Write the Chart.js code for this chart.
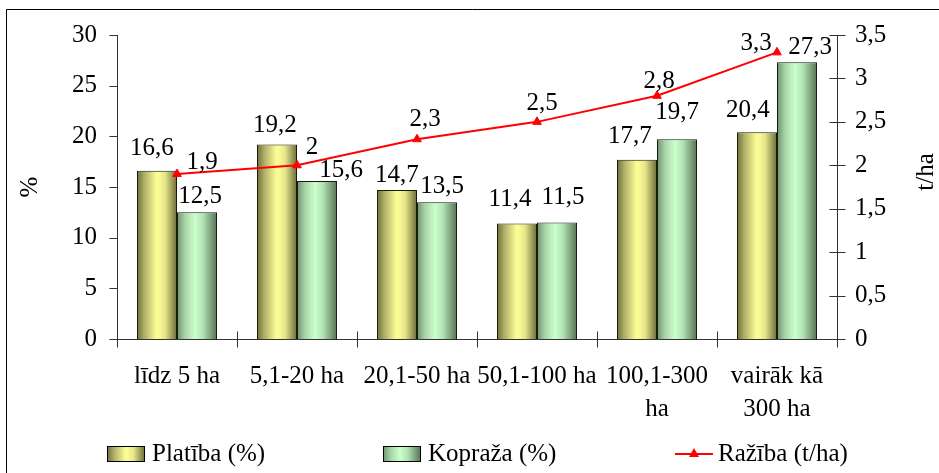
<!DOCTYPE html>
<html><head><meta charset="utf-8">
<script src="https://cdn.jsdelivr.net/npm/chart.js@4/dist/chart.umd.min.js"></script>
<style>html,body{margin:0;padding:0;background:#fff}#wrap{width:939px;height:473px;position:relative}</style>
</head><body><div id="wrap"><canvas id="c" width="939" height="473"></canvas></div>
<script>
const categories = ['līdz 5 ha', '5,1-20 ha', '20,1-50 ha', '50,1-100 ha', ['100,1-300', 'ha'], ['vairāk kā', '300 ha']];
const platiba = [16.6, 19.2, 14.7, 11.4, 17.7, 20.4];
const kopraza = [12.5, 15.6, 13.5, 11.5, 19.7, 27.3];
const raziba = [1.9, 2, 2.3, 2.5, 2.8, 3.3];
const seriesNames = ['Platība (%)', 'Kopraža (%)', 'Ražība (t/ha)'];
const leftAxisTitle = '%';
const rightAxisTitle = 't/ha';

// label placement tweaks (pixels) – style only
const platibaLabelDx = [-5, -2, 0, -7, -7, -9];
const platibaLabelUp = [22, 19, 15, 24, 23, 22];
const koprazaLabelDx = [3, 24, 5, 6, 0, 13];
const koprazaLabelUp = [16, 10, 16, 25, 27, 15];
const razibaLabelDx = [25, 15, 8, 5, 2, -21];
const razibaLabelDy = [-12, -18, -20, -18, -14, -9];

const FONT = '"Liberation Serif", "Times New Roman", serif';
const FS = 25;
const CAT_PCT = 0.667;
const fmt = v => String(v).replace('.', ',');

const platibaStops = [[0, '#6e6e3e'], [0.2, '#b4b46a'], [0.5, '#ffff99'], [0.7, '#e6e688'], [1, '#6a6a3a']];
const koprazaStops = [[0, '#6f8f6f'], [0.2, '#a8d4a8'], [0.45, '#ccffcc'], [0.65, '#b2e2b2'], [1, '#557055']];

function barGradient(stops, side) {
  return ctx => {
    const chart = ctx.chart;
    const xs = chart.scales && chart.scales.x;
    if (!xs || ctx.type !== 'data' || !xs.width) return stops[2][1];
    const center = xs.getPixelForValue(ctx.dataIndex);
    const bw = xs.width / categories.length * CAT_PCT / 2;
    const x0 = side < 0 ? center - bw : center;
    const g = chart.ctx.createLinearGradient(x0, 0, x0 + bw, 0);
    stops.forEach(([o, c]) => g.addColorStop(o, c));
    return g;
  };
}

const decor = {
  id: 'decor',
  afterDraw(chart) {
    const c = chart.ctx;
    const a = chart.chartArea;
    const ys = chart.scales.y, y1 = chart.scales.y1, xs = chart.scales.x;
    c.save();
    // outer frame
    c.strokeStyle = '#000'; c.lineWidth = 1;
    c.beginPath(); c.moveTo(6.5, 473); c.lineTo(6.5, 9.5); c.lineTo(939, 9.5); c.stroke();
    // axes
    const L = Math.round(a.left) + 0.5, R = Math.round(a.right) + 0.5, B = Math.round(a.bottom) + 0.5;
    c.strokeStyle = '#333';
    c.beginPath();
    c.moveTo(L, Math.round(a.top)); c.lineTo(L, B + 8);
    c.moveTo(R, Math.round(a.top)); c.lineTo(R, B + 8);
    c.moveTo(L, B); c.lineTo(R, B);
    ys.ticks.forEach(t => { const p = Math.round(ys.getPixelForValue(t.value)) + 0.5; c.moveTo(L - 8, p); c.lineTo(L, p); });
    y1.ticks.forEach(t => { const p = Math.round(y1.getPixelForValue(t.value)) + 0.5; c.moveTo(R - 8, p); c.lineTo(R + 8, p); });
    const cw = xs.width / categories.length;
    for (let i = 1; i < categories.length; i++) {
      const p = Math.round(a.left + cw * i) + 0.5;
      c.moveTo(p, B - 8); c.lineTo(p, B + 8);
    }
    c.stroke();
    // axis titles
    c.fillStyle = '#000';
    c.font = FS + 'px ' + FONT;
    c.textAlign = 'center'; c.textBaseline = 'middle';
    c.save(); c.translate(30, (a.top + a.bottom) / 2); c.rotate(-Math.PI / 2); c.fillText(leftAxisTitle, 0, 0); c.restore();
    c.save(); c.translate(926, 172); c.rotate(-Math.PI / 2); c.fillText(rightAxisTitle, 0, 0); c.restore();
    // data labels
    const m0 = chart.getDatasetMeta(0).data, m1 = chart.getDatasetMeta(1).data, m2 = chart.getDatasetMeta(2).data;
    m0.forEach((el, i) => c.fillText(fmt(platiba[i]), el.x + platibaLabelDx[i], el.y - platibaLabelUp[i]));
    m1.forEach((el, i) => c.fillText(fmt(kopraza[i]), el.x + koprazaLabelDx[i], el.y - koprazaLabelUp[i]));
    m2.forEach((el, i) => c.fillText(fmt(raziba[i]), el.x + razibaLabelDx[i], el.y + razibaLabelDy[i]));
    // legend
    const ly = 454;
    const boxes = [[107, platibaStops], [383, koprazaStops]];
    boxes.forEach(([x, stops], k) => {
      const g = c.createLinearGradient(x, 0, x + 38, 0);
      stops.forEach(([o, col]) => g.addColorStop(o, col));
      c.fillStyle = g; c.fillRect(x, ly - 8, 38, 16);
      c.strokeStyle = '#000'; c.lineWidth = 1; c.strokeRect(x + 0.5, ly - 7.5, 37, 15);
      c.fillStyle = '#000'; c.textAlign = 'left';
      c.fillText(seriesNames[k], x + 45, ly);
    });
    c.strokeStyle = '#ff0000'; c.lineWidth = 2;
    c.beginPath(); c.moveTo(675, ly); c.lineTo(713, ly); c.stroke();
    c.fillStyle = '#ff0000';
    c.beginPath(); c.moveTo(694, ly - 6); c.lineTo(699, ly + 3); c.lineTo(689, ly + 3); c.closePath(); c.fill();
    c.fillStyle = '#000'; c.textAlign = 'left';
    c.fillText(seriesNames[2], 718, ly);
    c.restore();
  }
};

new Chart(document.getElementById('c'), {
  data: {
    labels: categories,
    datasets: [
      { type: 'bar', label: seriesNames[0], data: platiba, yAxisID: 'y', order: 1,
        backgroundColor: barGradient(platibaStops, -1), borderColor: '#1a1a00', borderWidth: 1,
        categoryPercentage: CAT_PCT, barPercentage: 1 },
      { type: 'bar', label: seriesNames[1], data: kopraza, yAxisID: 'y', order: 1,
        backgroundColor: barGradient(koprazaStops, 1), borderColor: '#0f1f0f', borderWidth: 1,
        categoryPercentage: CAT_PCT, barPercentage: 1 },
      { type: 'line', label: seriesNames[2], data: raziba, yAxisID: 'y1', order: 0,
        borderColor: '#ff0000', borderWidth: 2, tension: 0, fill: false,
        pointStyle: 'triangle', pointRadius: 5, pointBackgroundColor: '#ff0000', pointBorderColor: '#ff0000', pointBorderWidth: 1 }
    ]
  },
  options: {
    responsive: false, animation: false, devicePixelRatio: 1,
    layout: { padding: { top: 32, left: 0, right: 0, bottom: 0 } },
    plugins: { legend: { display: false }, tooltip: { enabled: false } },
    scales: {
      x: {
        grid: { display: false, drawTicks: false }, border: { display: false },
        ticks: { color: '#000', font: { family: FONT, size: FS, lineHeight: '33px' }, padding: 21, maxRotation: 0, autoSkip: false },
        afterFit: s => { s.height = 134; }
      },
      y: {
        position: 'left', min: 0, max: 30,
        grid: { display: false, drawTicks: false }, border: { display: false },
        ticks: { stepSize: 5, color: '#000', font: { family: FONT, size: FS }, padding: 20 },
        afterFit: s => { s.width = 117; }
      },
      y1: {
        position: 'right', min: 0, max: 3.5,
        grid: { display: false, drawTicks: false }, border: { display: false },
        ticks: { stepSize: 0.5, color: '#000', font: { family: FONT, size: FS }, padding: 18, callback: v => fmt(v) },
        afterFit: s => { s.width = 102; }
      }
    }
  },
  plugins: [decor]
});
</script></body></html>
